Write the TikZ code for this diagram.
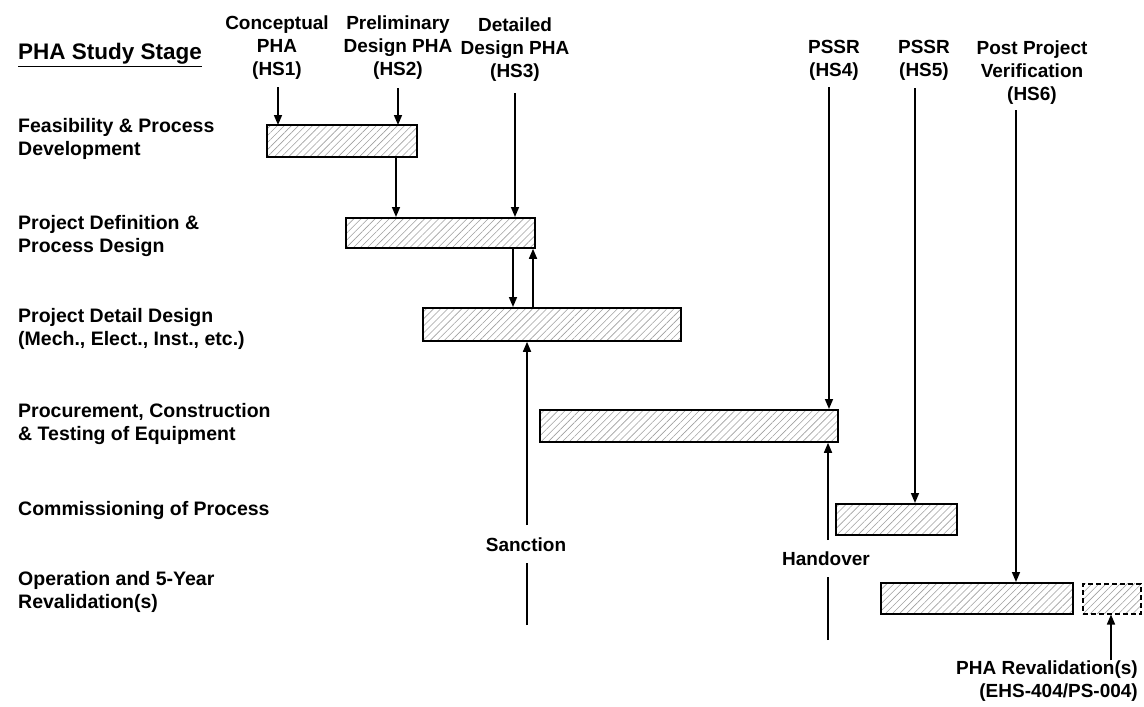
\documentclass[tikz,border=0pt]{standalone}
\usepackage{fontspec}
\setmainfont{Liberation Sans}
\usetikzlibrary{arrows.meta,patterns.meta}
\begin{document}
\begin{tikzpicture}[x=1pt,y=-1pt,
 lbl/.style={font=\fontsize{19}{23}\selectfont\bfseries, align=center, inner sep=0pt},
 stage/.style={font=\fontsize{19.5}{23}\selectfont\bfseries, align=left, anchor=west, inner sep=0pt},
 bar/.style={draw, line width=1.8pt, inner sep=0pt, anchor=north west, pattern={Lines[angle=45,distance=5pt,line width=0.6pt]}, pattern color=gray!75},
 arr/.style={line width=1.6pt, -{Triangle[length=10pt,width=8pt]}},
 ln/.style={line width=1.6pt}]
\useasboundingbox (0,0) rectangle (1144,707);

% left column
\node[stage, font=\fontsize{22.5}{25}\selectfont\bfseries] (title) at (18,55) {\underline{PHA Study Stage}};
\node[stage] (s1) at (18,139) {Feasibility \& Process\\Development};
\node[stage] (s2) at (18,236) {Project Definition \&\\Process Design};
\node[stage] (s3) at (18,329) {Project Detail Design\\(Mech., Elect., Inst., etc.)};
\node[stage] (s4) at (18,424) {Procurement, Construction\\\& Testing of Equipment};
\node[stage] (s5) at (18,510) {Commissioning of Process};
\node[stage] (s6) at (18,592) {Operation and 5-Year\\Revalidation(s)};

% top labels
\node[lbl] (hs1) at (277,48) {Conceptual\\PHA\\(HS1)};
\node[lbl] (hs2) at (398,48) {Preliminary\\Design PHA\\(HS2)};
\node[lbl] (hs3) at (515,50) {Detailed\\Design PHA\\(HS3)};
\node[lbl] (hs4) at (834,60) {PSSR\\(HS4)};
\node[lbl] (hs5) at (924,60) {PSSR\\(HS5)};
\node[lbl] (hs6) at (1032,73) {Post Project\\Verification\\(HS6)};

% bars
\node[bar, minimum width=150pt, minimum height=32pt] (b1) at (267,125) {};
\node[bar, minimum width=189pt, minimum height=30pt] (b2) at (345,217) {};
\node[bar, minimum width=258pt, minimum height=33pt] (b3) at (422,307) {};
\node[bar, minimum width=298pt, minimum height=32pt] (b4) at (539,409) {};
\node[bar, minimum width=121pt, minimum height=31pt] (b5) at (835,503) {};
\node[bar, minimum width=192pt, minimum height=31pt] (b6) at (880,582) {};
\node[bar, line width=1.5pt, dash pattern=on 5pt off 3pt, minimum width=58pt, minimum height=30pt] (b7) at (1082,583) {};

% bottom labels
\node[lbl] (sanc) at (526,545) {Sanction};
\node[lbl] (hand) at (826,559) {Handover};
\node[lbl, align=right, anchor=east] (rev) at (1138,681) {PHA Revalidation(s)\\(EHS-404/PS-004)};

% arrow start coordinates
\coordinate (a1) at (278,87);
\coordinate (a2) at (398,88);
\coordinate (a3) at (515,93);
\coordinate (a4) at (829,87);
\coordinate (a5) at (915,88);
\coordinate (a6) at (1016,110);
\coordinate (c12) at (396,0);
\coordinate (c23) at (513,0);
\coordinate (c32) at (533,0);
\coordinate (sancbot) at (527,625);
\coordinate (handbot) at (828,640);
\coordinate (revx) at (1111,0);

\draw[arr] (a1) -- (a1 |- b1.north);
\draw[arr] (a2) -- (a2 |- b1.north);
\draw[arr] (a3) -- (a3 |- b2.north);
\draw[arr] (a4) -- (a4 |- b4.north);
\draw[arr] (a5) -- (a5 |- b5.north);
\draw[arr] (a6) -- (a6 |- b6.north);

\draw[arr] (b1.south -| c12) -- (b2.north -| c12);
\draw[arr] (b2.south -| c23) -- (b3.north -| c23);
\draw[arr] (b3.north -| c32) -- (b2.south -| c32);

\draw[ln] (sancbot) -- (sancbot |- 0,563);
\draw[arr] (sancbot |- 0,525) -- (sancbot |- b3.south);
\draw[ln] (handbot) -- (handbot |- 0,577);
\draw[arr] (handbot |- 0,540) -- (handbot |- b4.south);
\draw[arr] (rev.north -| revx) -- (b7.south -| revx);
\end{tikzpicture}
\end{document}
